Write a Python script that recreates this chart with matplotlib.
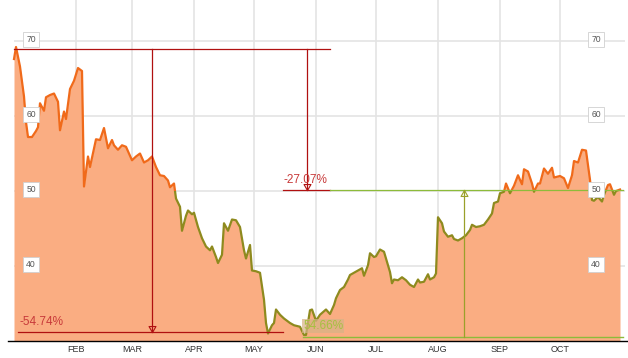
import numpy as np
import matplotlib
matplotlib.use("Agg")
import matplotlib.pyplot as plt
import matplotlib.dates as mdates
from matplotlib.patches import Rectangle
from matplotlib.path import Path
from matplotlib.lines import Line2D

plt.rcParams['font.family'] = ['Liberation Sans', 'DejaVu Sans']

# ---- data (day offsets from Jan 1, closing price) ----
start = np.datetime64('2018-01-01')
days = [0, 1, 3, 5, 6, 7, 9, 11, 12, 13, 15, 16, 18, 20, 22, 23, 25, 26, 28, 30,
        32, 34, 35, 37, 38, 41, 43, 45, 47, 49, 50, 52, 54, 56, 59, 61, 63, 65, 67, 69,
        71, 73, 75, 77, 78, 80, 81, 83, 84, 86, 87, 89, 90, 92, 94, 96, 98, 99, 101, 102,
        104, 105, 107, 109, 111, 113, 115, 116, 118, 119, 121, 123, 125, 126, 127, 129, 130, 131, 133, 135,
        138, 140, 143, 145, 146, 148, 149, 151, 153, 156, 158, 160, 161, 163, 165, 167, 168, 170, 172, 174,
        175, 177, 178, 180, 181, 183, 185, 186, 188, 189, 190, 192, 194, 196, 198, 200, 202, 203, 205, 207,
        208, 210, 211, 212, 214, 215, 217, 219, 220, 222, 224, 226, 228, 229, 231, 233, 235, 237, 239, 240,
        242, 243, 245, 246, 248, 250, 252, 254, 255, 257, 259, 260, 262, 263, 265, 267, 269, 270, 273, 275,
        277, 279, 280, 282, 284, 286, 288, 289, 290, 292, 294, 295, 297, 298, 300, 301, 303]
prices = [67.6, 69.2, 66.6, 62.6, 59.2, 57.2, 57.2, 58.0, 58.5, 61.7, 60.7, 62.5, 62.8, 63.0, 61.9, 58.1, 60.6, 59.6, 63.6, 64.7,
          66.4, 66.0, 50.6, 54.6, 53.2, 56.9, 56.8, 58.4, 55.7, 56.8, 56.1, 55.5, 56.1, 55.9, 54.1, 54.6, 55.0, 53.8, 54.1, 54.6,
          53.2, 52.1, 52.0, 51.4, 50.5, 51.0, 49.0, 47.9, 44.7, 46.7, 47.4, 46.9, 47.1, 45.2, 43.7, 42.6, 42.1, 42.6, 41.2, 40.4,
          41.5, 45.7, 44.7, 46.2, 46.1, 45.2, 42.1, 41.0, 42.8, 39.4, 39.3, 39.1, 35.5, 32.4, 31.0, 32.1, 32.4, 34.2, 33.5, 33.0,
          32.4, 32.1, 31.9, 30.8, 30.8, 34.1, 34.2, 32.7, 33.5, 34.2, 33.6, 34.8, 35.7, 36.8, 37.2, 38.2, 38.8, 39.1, 39.4, 39.7,
          38.7, 40.1, 41.7, 41.2, 41.3, 42.2, 41.9, 41.0, 39.2, 37.7, 38.2, 38.1, 38.5, 38.1, 37.5, 37.2, 38.2, 37.8, 37.9, 38.9,
          38.2, 38.5, 39.0, 46.5, 45.7, 44.6, 43.9, 44.1, 43.6, 43.4, 43.7, 44.1, 44.8, 45.5, 45.2, 45.3, 45.5, 46.2, 47.0, 48.4,
          48.6, 49.7, 49.9, 51.0, 49.7, 50.7, 52.1, 50.9, 52.9, 52.6, 51.0, 49.9, 51.0, 51.0, 53.0, 52.3, 53.1, 51.8, 52.0, 51.7,
          50.4, 52.1, 54.0, 53.8, 55.5, 55.4, 51.5, 48.8, 48.7, 49.2, 48.6, 49.5, 50.8, 50.9, 49.5, 50.0, 50.2]
month_labels = ['FEB', 'MAR', 'APR', 'MAY', 'JUN', 'JUL', 'AUG', 'SEP', 'OCT']
month_starts = ['2018-02-01', '2018-03-01', '2018-04-01', '2018-05-01', '2018-06-01',
                '2018-07-01', '2018-08-01', '2018-09-01', '2018-10-01']
y_ticks = [40, 50, 60, 70]

# annotation values
peak_level = 68.9
drawdown_level = 31.2
current_level = 50.1
low_level = 30.6
drawdown_text = '-54.74%'
current_text = '-27.07%'
recovery_text = '54.66%'

dates = start + np.array(days).astype('timedelta64[D]')
x = mdates.date2num(dates)
y = np.array(prices)

def d(n):
    return mdates.date2num(start + np.timedelta64(int(round(n * 10)), 'h') * 2.4)

W, H = 628, 358
fig = plt.figure(figsize=(W / 100, H / 100), dpi=100)
ax = fig.add_axes([0, (H - 341) / H, 1, 341 / H])
ax.set_xlim(d(-7), d(307))
ax.set_ylim(30.0, 75.47)
for s in ax.spines.values():
    s.set_visible(False)
ax.set_yticks([])

# grid
grid_c = '#e4e4e4'
for ms in month_starts:
    ax.axvline(mdates.date2num(np.datetime64(ms)), color=grid_c, lw=1.2, zorder=0)
ax.hlines(y_ticks, d(0), d(305.5), color=grid_c, lw=1.2, zorder=0)

# area + line
ax.fill_between(x, y, 30.0, color='#FAAD82', lw=0, zorder=1)
orange, = ax.plot(x, y, color='#F06A1A', lw=1.6, zorder=3, solid_joinstyle='round')
olive, = ax.plot(x, y, color='#8E8A1E', lw=1.6, zorder=3, solid_joinstyle='round')
r_hi = Rectangle((x[0] - 50, 50.0), 1000, 100, transform=ax.transData)
r_lo = Rectangle((x[0] - 50, 0), 1000, 50.0, transform=ax.transData)
orange.set_clip_path(r_hi)
olive.set_clip_path(r_lo)

# x axis line
ax.add_line(Line2D([8 / W, 1], [0, 0], transform=ax.transAxes, color='black', lw=1.0, clip_on=False))

# month labels
ax.set_xticks([mdates.date2num(np.datetime64(m)) for m in month_starts])
ax.set_xticklabels(month_labels, fontsize=6.5, color='#333333')
ax.tick_params(axis='x', length=0, pad=3)

# y labels in boxes
for yv in y_ticks:
    for xd in (8.5, 291):
        ax.text(d(xd), yv + 0.25, str(yv), fontsize=6.2, color='#555555', ha='center', va='center', zorder=6,
                bbox=dict(boxstyle='square,pad=0.35', fc='white', ec='#d0d0d0', lw=0.6))

red = '#B01010'
green = '#8DBB3A'
down = Path([(-0.58, 1), (0.58, 1), (0, 0), (-0.58, 1)], [1, 2, 2, 79])
up = Path([(-0.58, -1), (0.58, -1), (0, 0), (-0.58, -1)], [1, 2, 2, 79])

# red drawdown annotation
ax.plot([d(0), d(158)], [peak_level] * 2, color=red, lw=0.9, zorder=4)
ax.plot([d(68.8)] * 2, [peak_level, drawdown_level], color=red, lw=0.9, zorder=4)
ax.plot([d(68.8)], [drawdown_level], marker=down, ms=8.6, mfc='none', mec=red, mew=0.8, zorder=4)
ax.plot([d(2), d(134.5)], [drawdown_level] * 2, color=red, lw=0.9, zorder=4)
ax.text(d(3), 32.55, drawdown_text, fontsize=8.5, color='#C83A3A', ha='left', va='center', zorder=5)

ax.plot([d(146.5)] * 2, [peak_level, current_level], color=red, lw=0.9, zorder=4)
ax.plot([d(146.5)], [current_level], marker=down, ms=8.6, mfc='none', mec=red, mew=0.8, zorder=4)
ax.plot([d(134.5), d(158)], [current_level] * 2, color=red, lw=0.9, zorder=4)
ax.text(d(135), 51.5, current_text, fontsize=8.5, color='#C83A3A', ha='left', va='center', zorder=5)

# green recovery annotation
ax.plot([d(158), d(304.5)], [current_level] * 2, color=green, lw=0.9, zorder=4)
ax.plot([d(144.5), d(304.5)], [low_level] * 2, color=green, lw=1.0, zorder=4)
ax.plot([d(225)] * 2, [low_level, current_level], color='#9AA02A', lw=0.9, zorder=4)
ax.plot([d(225)], [current_level], marker=up, ms=8.6, mfc='none', mec='#9AA02A', mew=0.8, zorder=4)
ax.text(d(144.5), 32.0, recovery_text, fontsize=8.5, color='#A6C040', ha='left', va='center', zorder=5,
        bbox=dict(boxstyle='square,pad=0.1', fc='#D6B385', ec='none', alpha=0.7))

fig.savefig('out.png', dpi=100)
